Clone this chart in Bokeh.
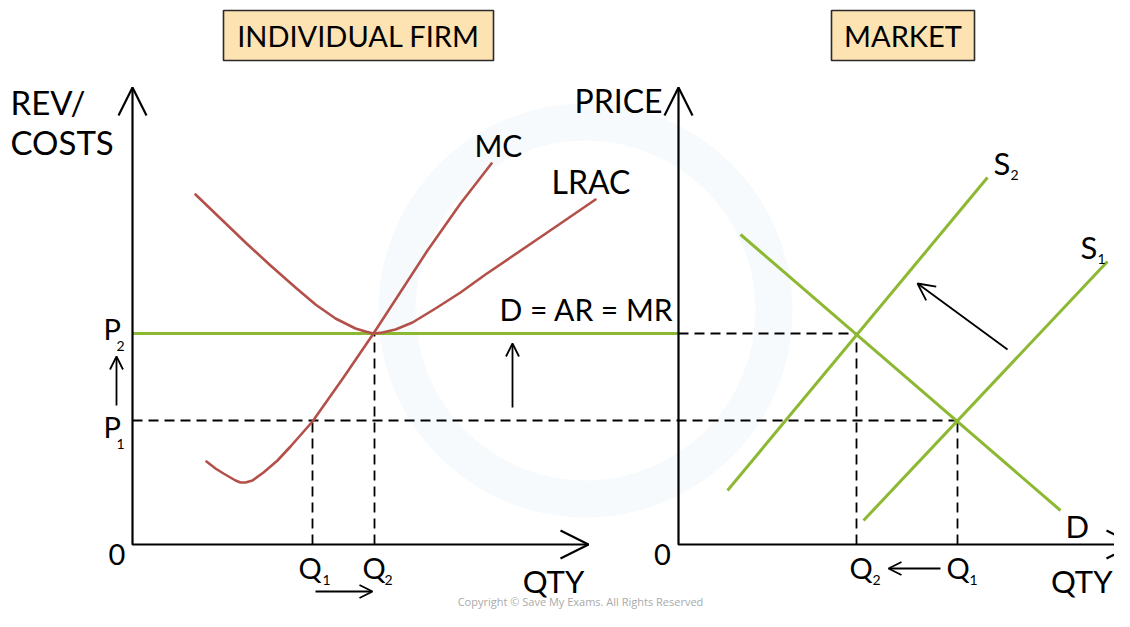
from bokeh.plotting import figure
from bokeh.models import Range1d, Arrow, OpenHead, ColumnDataSource
from bokeh.core.properties import value
from bokeh.embed import file_html
from bokeh.resources import INLINE

# ---------------- data (diagram units: price shared, firm origin at 0) -------------
P1, P2 = 124, 211                      # market prices before / after
firm_q1, firm_q2 = 180, 242            # firm output before / after
mc_q = [74, 83, 91, 103, 108, 113, 120, 131, 145, 158, 180, 211, 241, 295, 328, 359]
mc_c = [83, 76, 71, 64, 62, 62, 64, 72, 84, 98, 123, 167, 211, 294, 341, 381]
lrac_q = [63, 88, 113, 138, 163, 183, 203, 223, 233, 241, 250, 263, 280, 303, 328, 353, 378, 403, 428, 463]
lrac_c = [350, 326, 302, 279, 257, 240, 226, 216, 213, 211, 212, 215, 222, 236, 252, 270, 287, 304, 321, 345]

MKT_X0 = 546                            # market panel origin (shared price scale)
mkt_q1, mkt_q2 = 279, 178               # market quantity before / after
demand_q = [62, 382]
demand_p = [310, 34]
s1_q = [185, 429]
s1_p = [24, 283]
s2_q = [49, 309]
s2_p = [54, 367]

AXIS_TOP = 457
FIRM_AXIS_RIGHT = 456
MKT_AXIS_RIGHT = 456

RED = "#b3504a"
GREEN = "#8cb832"
BOX_FILL = "#fde3b1"

p = figure(width=1114, height=611, x_range=Range1d(-132, 982), y_range=Range1d(-67, 544),
           output_backend="svg", toolbar_location=None, min_border=0,
           x_axis_location=None, y_axis_location=None)
p.grid.visible = False
p.outline_line_color = None
p.background_fill_color = "white"

# faint watermark ring
p.annulus(x=[453], y=[234], inner_radius=170, outer_radius=207,
          fill_color="#f6fafc", line_color=None)

# dashed guides
dash = dict(line_color="black", line_width=1.8, line_dash="10 6")
p.line([0, MKT_X0 + mkt_q1], [P1, P1], **dash)
p.line([MKT_X0, MKT_X0 + mkt_q2], [P2, P2], **dash)
p.line([firm_q1, firm_q1], [0, P1], **dash)
p.line([firm_q2, firm_q2], [0, P2], **dash)
p.line([MKT_X0 + mkt_q2] * 2, [0, P2], **dash)
p.line([MKT_X0 + mkt_q1] * 2, [0, P1], **dash)

# firm demand = AR = MR at P2
p.line([0, MKT_X0], [P2, P2], line_color=GREEN, line_width=3.2)

# firm cost curves
p.line(mc_q, mc_c, line_color=RED, line_width=2.6, line_join="round", line_cap="round")
p.line(lrac_q, lrac_c, line_color=RED, line_width=2.6, line_join="round", line_cap="round")

# market curves
def mx(vals):
    return [MKT_X0 + v for v in vals]

p.line(mx(demand_q), demand_p, line_color=GREEN, line_width=3)
p.line(mx(s1_q), s1_p, line_color=GREEN, line_width=3)
p.line(mx(s2_q), s2_p, line_color=GREEN, line_width=3)

# axes
p.line([0, 0, FIRM_AXIS_RIGHT], [AXIS_TOP, 0, 0], line_color="black", line_width=2.2)
p.line([MKT_X0, MKT_X0, MKT_X0 + MKT_AXIS_RIGHT], [AXIS_TOP, 0, 0], line_color="black", line_width=2.2)

big = ColumnDataSource(dict(
    x0=[0, 0, MKT_X0, MKT_X0],
    y0=[0, 0, 0, 0],
    x1=[0, FIRM_AXIS_RIGHT, MKT_X0, MKT_X0 + MKT_AXIS_RIGHT],
    y1=[AXIS_TOP, 0, AXIS_TOP, 0]))
p.add_layout(Arrow(end=OpenHead(size=28, line_width=2.2, line_color="black"),
                   x_start="x0", y_start="y0", x_end="x1", y_end="y1",
                   source=big, line_alpha=0))

small = ColumnDataSource(dict(
    x0=[-16, 380, firm_q1 + 3, MKT_X0 + mkt_q1 - 17],
    y0=[P1 + 15, P1 + 13, -47, -24],
    x1=[-16, 380, firm_q2 - 2, MKT_X0 + mkt_q2 + 32],
    y1=[P2 - 23, P2 - 10, -47, -24]))
p.add_layout(Arrow(end=OpenHead(size=13, line_width=1.8, line_color="black"),
                   x_start="x0", y_start="y0", x_end="x1", y_end="y1",
                   source=small, line_width=1.8, line_color="black"))

shift = ColumnDataSource(dict(x0=[MKT_X0 + 329], y0=[195], x1=[MKT_X0 + 239], y1=[261]))
p.add_layout(Arrow(end=OpenHead(size=17, line_width=1.8, line_color="black"),
                   x_start="x0", y_start="y0", x_end="x1", y_end="y1",
                   source=shift, line_width=1.8, line_color="black"))

# title boxes
p.quad(left=[91, MKT_X0 + 153], right=[361, MKT_X0 + 296], bottom=[484, 484], top=[534, 534],
       fill_color=BOX_FILL, line_color="#2a2a2a", line_width=1.6)


def txt(x, y, s, size, align="left", color="black", font="Lato"):
    p.text(x=[x], y=[y], text=[s], text_font=value(font), text_font_size=value(size),
           text_align=align, text_baseline="middle", text_color=color)


txt(226, 509, "INDIVIDUAL FIRM", "29px", "center")
txt(MKT_X0 + 224.5, 509, "MARKET", "29px", "center")

txt(-122, 443, "REV/", "33px")
txt(-122, 403, "COSTS", "33px")
txt(MKT_X0 - 16, 444, "PRICE", "32px", "right")

txt(342, 400, "MC", "30px")
txt(419, 363, "LRAC", "32px")
txt(367, 236, "D = AR = MR", "30px")

txt(-15.5, -10, "0", "29px", "center")
txt(MKT_X0 - 16, -10, "0", "29px", "center")
txt(421, -36, "QTY", "31px", "center")
txt(980, -36, "QTY", "31px", "right")

# price labels with subscripts
txt(-29, 216, "P", "29px")
txt(-16, 199, "2", "14px")
txt(-29, 118, "P", "29px")
txt(-16, 101, "1", "14px")

# quantity labels
txt(166, -23, "Q", "29px")
txt(190, -35, "1", "14px")
txt(230, -23, "Q", "29px")
txt(252, -35, "2", "14px")
txt(MKT_X0 + 171, -23, "Q", "29px")
txt(MKT_X0 + 194, -35, "2", "14px")
txt(MKT_X0 + 268, -23, "Q", "29px")
txt(MKT_X0 + 291, -35, "1", "14px")

# curve labels market
txt(MKT_X0 + 315, 382, "S", "31px")
txt(MKT_X0 + 332, 370, "2", "14px")
txt(MKT_X0 + 402, 298, "S", "31px")
txt(MKT_X0 + 419, 286, "1", "14px")
txt(MKT_X0 + 387, 19, "D", "31px")

txt(448, -57, "Copyright © Save My Exams. All Rights Reserved", "11px", "center",
    color="#aaaaaa", font="Open Sans")

open("out.html", "w").write(file_html(p, INLINE))
